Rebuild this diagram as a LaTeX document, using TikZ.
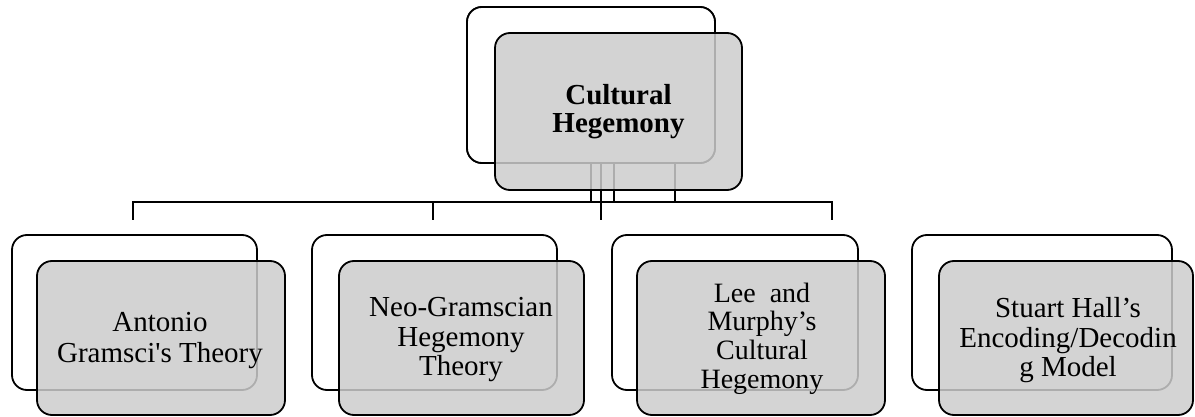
\documentclass[tikz,border=0pt]{standalone}
\usepackage{fontspec}
\setmainfont{Liberation Serif}[Ligatures=TeXOff]
\begin{document}
\begin{tikzpicture}[x=1pt,y=-1pt,
  conn/.style={draw=black,line width=1.8pt},
  backbox/.style={draw=black,line width=1.8pt,fill=white,rounded corners=15pt,inner sep=0pt},
  frontbox/.style={draw=black,line width=1.8pt,fill=black!20,fill opacity=0.85,
    rounded corners=15pt,inner sep=0pt},
  lbl/.style={inner sep=0pt,align=center,font=\fontsize{29}{29.5}\selectfont},
]
\useasboundingbox (0,0) rectangle (1195,417);
% connectors
\coordinate (h1) at (133,202);
\coordinate (h2) at (433,202);
\coordinate (h3) at (601,202);
\coordinate (h4) at (832,202);
\coordinate (t1) at (133,220);
\coordinate (t2) at (433,220);
\coordinate (t3) at (601,220);
\coordinate (t4) at (832,220);
\coordinate (v1) at (591,202);
\coordinate (v2) at (601,202);
\coordinate (v3) at (614,202);
\coordinate (v4) at (675,202);
\node[backbox,minimum width=248pt,minimum height=156pt] (tb) at (591,85) {};
\draw[conn] (t1) -- (h1) -- (h4) -- (t4);
\draw[conn] (h2) -- (t2);
\draw[conn] (h3) -- (t3);
\draw[conn] (v1) -- (v1 |- tb.south);
\draw[conn] (v2) -- (v2 |- tb.south);
\draw[conn] (v3) -- (v3 |- tb.south);
\draw[conn] (v4) -- (v4 |- tb.south);
\node[backbox,minimum width=248pt,minimum height=156pt] at (tb) {};
\node[frontbox,minimum width=247pt,minimum height=157pt] (tf) at (618.5,111.5) {};
\node[lbl,font=\bfseries\fontsize{29}{28}\selectfont] (tft) at (618.5,112) {Cultural\\Hegemony};
% bottom row
\node[backbox,minimum width=245pt,minimum height=155pt] (b1) at (134.5,312.5) {};
\node[frontbox,minimum width=248pt,minimum height=154pt] (f1) at (161,338) {};
\node[lbl,font=\fontsize{29}{31}\selectfont] (f1t) at (160,341) {Antonio\\Gramsci's Theory};
\node[backbox,minimum width=245pt,minimum height=155pt] (b2) at (434.5,312.5) {};
\node[frontbox,minimum width=245pt,minimum height=154pt] (f2) at (461.5,338) {};
\node[lbl] (f2t) at (461,340) {Neo-Gramscian\\Hegemony\\Theory};
\node[backbox,minimum width=246pt,minimum height=155pt] (b3) at (735,312.5) {};
\node[frontbox,minimum width=248pt,minimum height=154pt] (f3) at (761,338) {};
\node[lbl,font=\fontsize{28}{28.7}\selectfont] (f3t) at (762,338.5) {Lee\ \ and\\Murphy’s\\Cultural\\Hegemony};
\node[backbox,minimum width=260pt,minimum height=155pt] (b4) at (1042,312.5) {};
\node[frontbox,minimum width=254pt,minimum height=154pt] (f4) at (1066,338) {};
\node[lbl] (f4t) at (1068,340.5) {Stuart Hall’s\\Encoding/Decodin\\g Model};
\end{tikzpicture}
\end{document}
